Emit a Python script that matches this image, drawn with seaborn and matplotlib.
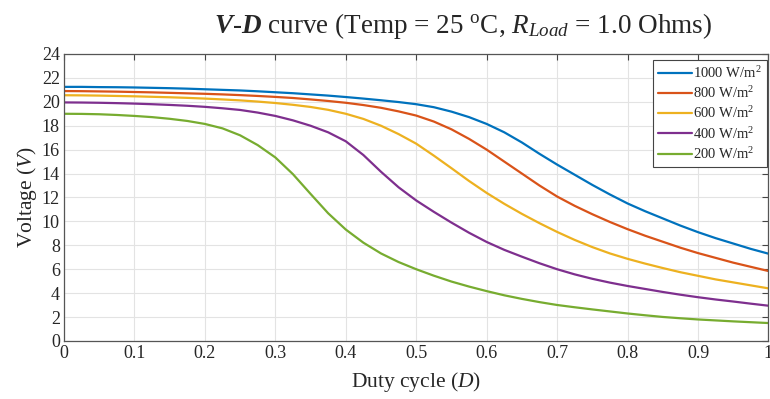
import numpy as np
import pandas as pd
import matplotlib
matplotlib.use("Agg")
import matplotlib.pyplot as plt
import seaborn as sns

duty = [0.0, 0.025, 0.05, 0.075, 0.1, 0.125, 0.15, 0.175, 0.2, 0.225, 0.25, 0.275,
        0.3, 0.325, 0.35, 0.375, 0.4, 0.425, 0.45, 0.475, 0.5, 0.525, 0.55, 0.575,
        0.6, 0.625, 0.65, 0.675, 0.7, 0.725, 0.75, 0.775, 0.8, 0.825, 0.85, 0.875,
        0.9, 0.925, 0.95, 0.975, 1.0]

v_1000 = [21.25, 21.25, 21.23, 21.22, 21.2, 21.17, 21.14, 21.1, 21.05, 21.0, 20.95, 20.88,
          20.8, 20.72, 20.62, 20.52, 20.4, 20.27, 20.13, 19.98, 19.8, 19.55, 19.18, 18.72,
          18.15, 17.45, 16.6, 15.65, 14.75, 13.9, 13.05, 12.25, 11.5, 10.85, 10.25, 9.65,
          9.1, 8.6, 8.15, 7.7, 7.3]
v_800 = [20.9, 20.89, 20.87, 20.85, 20.82, 20.79, 20.75, 20.71, 20.67, 20.62, 20.56, 20.49,
         20.41, 20.32, 20.2, 20.07, 19.92, 19.73, 19.5, 19.2, 18.85, 18.35, 17.7, 16.9,
         16.0, 15.0, 14.0, 13.0, 12.08, 11.3, 10.6, 9.95, 9.35, 8.8, 8.3, 7.8,
         7.35, 6.95, 6.55, 6.2, 5.85]
v_600 = [20.55, 20.54, 20.52, 20.49, 20.46, 20.42, 20.38, 20.33, 20.27, 20.2, 20.12, 20.02,
         19.9, 19.75, 19.57, 19.33, 19.0, 18.57, 18.0, 17.3, 16.5, 15.5, 14.45, 13.38,
         12.38, 11.47, 10.63, 9.85, 9.12, 8.45, 7.85, 7.32, 6.87, 6.47, 6.1, 5.75,
         5.45, 5.15, 4.9, 4.65, 4.4]
v_400 = [19.95, 19.94, 19.92, 19.89, 19.85, 19.8, 19.74, 19.67, 19.58, 19.46, 19.32, 19.1,
         18.82, 18.45, 18.0, 17.45, 16.7, 15.55, 14.15, 12.85, 11.75, 10.8, 9.9, 9.05,
         8.28, 7.62, 7.05, 6.5, 6.0, 5.57, 5.2, 4.88, 4.6, 4.35, 4.1, 3.87,
         3.66, 3.47, 3.3, 3.12, 2.95]
v_200 = [19.0, 18.99, 18.96, 18.9, 18.82, 18.72, 18.58, 18.4, 18.15, 17.78, 17.2, 16.38,
         15.35, 13.95, 12.3, 10.68, 9.32, 8.22, 7.32, 6.6, 6.0, 5.46, 4.97, 4.55,
         4.17, 3.82, 3.52, 3.25, 3.01, 2.82, 2.64, 2.47, 2.3, 2.15, 2.01, 1.9,
         1.8, 1.72, 1.64, 1.57, 1.5]

series_labels = ["1000 W/m$^2$", "800 W/m$^2$", "600 W/m$^2$", "400 W/m$^2$", "200 W/m$^2$"]
colors = ["#0072BD", "#D95319", "#EDB120", "#7E2F8E", "#77AC30"]
x_ticks = [0, 0.1, 0.2, 0.3, 0.4, 0.5, 0.6, 0.7, 0.8, 0.9, 1]
x_tick_labels = ["0", "0.1", "0.2", "0.3", "0.4", "0.5", "0.6", "0.7", "0.8", "0.9", "1"]
y_ticks = list(range(0, 25, 2))

frames = []
for lab, vals in zip(series_labels, [v_1000, v_800, v_600, v_400, v_200]):
    frames.append(pd.DataFrame({"D": duty, "V": vals, "Irradiance": lab}))
df = pd.concat(frames, ignore_index=True)

sns.set_style("whitegrid")
plt.rcParams["font.family"] = ["Liberation Serif", "DejaVu Serif"]
plt.rcParams["mathtext.fontset"] = "custom"
plt.rcParams["mathtext.rm"] = "Liberation Serif"
plt.rcParams["mathtext.it"] = "Liberation Serif:italic"
plt.rcParams["mathtext.bf"] = "Liberation Serif:bold"
plt.rcParams["mathtext.bfit"] = "Liberation Serif:bold:italic"

fig = plt.figure(figsize=(7.7, 3.99), dpi=100)
ax = fig.add_axes([0.0831, 0.1454, 0.9149, 0.7193])

sns.lineplot(data=df, x="D", y="V", hue="Irradiance", palette=colors,
             linewidth=1.6, ax=ax, sort=False)
for ln in ax.get_lines():
    ln.set_solid_joinstyle("round")

ax.set_xlim(0, 1)
ax.set_ylim(0, 24)
ax.set_xticks(x_ticks)
ax.set_xticklabels(x_tick_labels)
ax.set_yticks(y_ticks)
ax.tick_params(axis="both", which="both", direction="in", length=4, width=0.8,
               color="#444444", labelsize=13, top=True, right=True,
               labelcolor="#262626", pad=3)
ax.grid(True, color="#e3e3e3", linewidth=0.8)
for s in ax.spines.values():
    s.set_color("#555555")
    s.set_linewidth(0.9)

ax.set_xlabel("Duty cycle ($D$)", fontsize=15.5, color="#262626", labelpad=6)
ax.set_ylabel("Voltage ($V$)", fontsize=15.5, color="#262626", labelpad=2)
ax.set_title(r"$\mathbfit{V}$-$\mathbfit{D}$ curve (Temp = 25 $^{\rm o}$C, $R_{Load}$ = 1.0 Ohms)",
             fontsize=19.5, pad=15, x=0.566)

leg = ax.legend(loc="upper right", bbox_to_anchor=(0.998, 0.98), borderaxespad=0,
                fontsize=10.5, frameon=True, fancybox=False,
                handlelength=2.3, handletextpad=0.1, borderpad=0.35,
                labelspacing=0.3)
leg.get_frame().set_edgecolor("#444444")
leg.get_frame().set_linewidth(0.8)
leg.get_frame().set_alpha(1)

fig.savefig("out.png", dpi=100)
